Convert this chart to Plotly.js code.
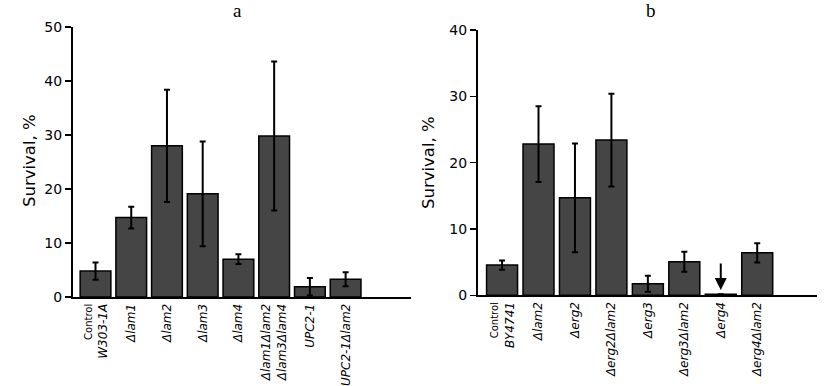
<!DOCTYPE html>
<html><head><meta charset="utf-8">
<script src="https://cdn.plot.ly/plotly-3.0.1.min.js"></script>
<style>html,body{margin:0;padding:0;background:#fff}#chart{width:829px;height:386px}</style>
</head><body><div id="chart"></div>
<script>
// Panel a
const catsA = ['Control W303-1A','Δlam1','Δlam2','Δlam3','Δlam4','Δlam1Δlam2Δlam3Δlam4','UPC2-1','UPC2-1Δlam2'];
const labelsA = ['<span style="font-style:normal;font-size:10px">Control</span><br><i>W303-1A</i>','<i>Δlam1</i>','<i>Δlam2</i>','<i>Δlam3</i>','<i>Δlam4</i>','<i>Δlam1Δlam2</i><br><i>Δlam3Δlam4</i>','<i>UPC2-1</i>','<i>UPC2-1Δlam2</i>'];
const valsA = [4.8, 14.7, 28.0, 19.1, 7.0, 29.8, 1.9, 3.3];
const errA  = [1.6, 2.0, 10.4, 9.7, 0.9, 13.8, 1.6, 1.3];
// Panel b
const catsB = ['Control BY4741','Δlam2','Δerg2','Δerg2Δlam2','Δerg3','Δerg3Δlam2','Δerg4','Δerg4Δlam2'];
const labelsB = ['<span style="font-style:normal;font-size:10px">Control</span><br><i>BY4741</i>','<i>Δlam2</i>','<i>Δerg2</i>','<i>Δerg2Δlam2</i>','<i>Δerg3</i>','<i>Δerg3Δlam2</i>','<i>Δerg4</i>','<i>Δerg4Δlam2</i>'];
const valsB = [4.55, 22.8, 14.7, 23.4, 1.75, 5.05, 0.15, 6.4];
const errB  = [0.7, 5.7, 8.2, 7.0, 1.2, 1.5, 0, 1.45];
const yTitle = 'Survival, %';

const barStyle = {color:'#454545', line:{color:'#000', width:1.5}};
const errStyle = (a)=>({type:'data', array:a, visible:true, color:'#000', thickness:2, width:3});

const traces = [
  {type:'bar', x:catsA, y:valsA, error_y:errStyle(errA), marker:barStyle, xaxis:'x', yaxis:'y', width:0.86},
  {type:'bar', x:catsB, y:valsB, error_y:errStyle(errB), marker:barStyle, xaxis:'x2', yaxis:'y2', width:0.85}
];

const fnt = {family:'DejaVu Sans, sans-serif', color:'#000'};
const xCommon = {showline:true, linecolor:'#000', linewidth:2, ticks:'', tickangle:-90,
  tickfont:{family:'DejaVu Sans', size:12, color:'#000'}, showgrid:false, zeroline:false, fixedrange:true};
const yCommon = {showline:true, linecolor:'#000', linewidth:2, ticks:'outside', ticklen:6, tickwidth:1.5, tickcolor:'#000',
  tickfont:{family:'DejaVu Sans', size:14, color:'#000'}, showgrid:false, zeroline:false, dtick:10};

const titleFont = {family:'DejaVu Sans', size:16.5, color:'#000'};
const layout = {
  width:829, height:386, margin:{l:0,r:0,t:0,b:0}, showlegend:false,
  paper_bgcolor:'#fff', plot_bgcolor:'#fff', font:fnt,
  xaxis: Object.assign({}, xCommon, {domain:[73/829, 411/829], anchor:'y', range:[-0.63, 8.83],
    tickmode:'array', tickvals:catsA, ticktext:labelsA}),
  yaxis: Object.assign({}, yCommon, {domain:[1-297/386, 1-27/386], anchor:'x', range:[0,50]}),
  xaxis2: Object.assign({}, xCommon, {domain:[478/829, 817/829], anchor:'y2', range:[-0.66, 8.64],
    tickmode:'array', tickvals:catsB, ticktext:labelsB}),
  yaxis2: Object.assign({}, yCommon, {domain:[1-295.3/386, 1-30/386], anchor:'x2', range:[0,40]}),
  annotations:[
    {text:'a', xref:'paper', yref:'paper', x:237/829, y:1-11/386, xanchor:'center', yanchor:'middle', showarrow:false,
     font:{family:'Liberation Serif, serif', size:19, color:'#000'}},
    {text:'b', xref:'paper', yref:'paper', x:651/829, y:1-11/386, xanchor:'center', yanchor:'middle', showarrow:false,
     font:{family:'Liberation Serif, serif', size:19, color:'#000'}},
    {text:yTitle, xref:'paper', yref:'paper', x:30/829, y:1-161/386, xanchor:'center', yanchor:'middle',
     textangle:-90, showarrow:false, font:titleFont},
    {text:yTitle, xref:'paper', yref:'paper', x:429/829, y:1-163/386, xanchor:'center', yanchor:'middle',
     textangle:-90, showarrow:false, font:titleFont},
    {text:'', xref:'x2', yref:'y2', x:'Δerg4', y:0.8, showarrow:true, arrowhead:2, arrowsize:1.2,
     arrowwidth:2, arrowcolor:'#000', ax:0, ay:-28}
  ]
};
Plotly.newPlot('chart', traces, layout, {displayModeBar:false, staticPlot:true});
</script></body></html>
